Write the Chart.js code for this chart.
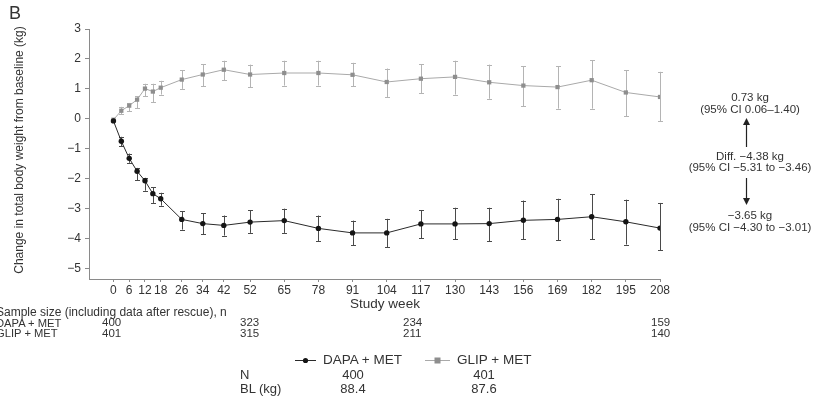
<!DOCTYPE html>
<html>
<head>
<meta charset="utf-8">
<script src="https://cdn.jsdelivr.net/npm/chart.js@4/dist/chart.umd.min.js"></script>
<style>
  html, body { margin: 0; padding: 0; background: #fff; }
  #wrap { position: relative; width: 827px; height: 396px; overflow: hidden;
          font-family: "Liberation Sans", Arial, Helvetica, sans-serif; color: #333; }
  #c { position: absolute; left: 0; top: 0; }
  .t { position: absolute; white-space: nowrap; line-height: 1; }
</style>
</head>
<body>
<div id="wrap">
  <canvas id="c" width="827" height="396"></canvas>
</div>
<script>
// Study weeks with a visit, and the weeks labelled on the axis
const weeks = [0, 3, 6, 9, 12, 15, 18, 26, 34, 42, 52, 65, 78, 91, 104, 117, 130, 143, 156, 169, 182, 195, 208];
const tickWeeks = [0, 6, 12, 18, 26, 34, 42, 52, 65, 78, 91, 104, 117, 130, 143, 156, 169, 182, 195, 208];
const yTicks = [-5, -4, -3, -2, -1, 0, 1, 2, 3];

// Change in total body weight (kg): mean and error bar ends, DAPA + MET
const dapaMean = [-0.07, -0.75, -1.32, -1.75, -2.07, -2.50, -2.67, -3.36, -3.50, -3.56, -3.45, -3.40, -3.66, -3.81, -3.81, -3.51, -3.51, -3.50, -3.39, -3.36, -3.27, -3.44, -3.65];
const dapaLow  = [null, -0.92, -1.47, -2.05, -2.40, -2.81, -2.90, -3.70, -3.86, -3.90, -3.81, -3.81, -4.09, -4.23, -4.29, -3.99, -4.03, -4.09, -4.03, -4.06, -4.03, -4.20, -4.39];
const dapaHigh = [null, -0.60, -1.16, -1.64, -1.97, -2.29, -2.47, -3.09, -3.16, -3.23, -3.05, -3.00, -3.23, -3.40, -3.34, -3.05, -2.97, -2.97, -2.73, -2.67, -2.51, -2.70, -2.81];

// GLIP + MET
const glipMean = [-0.03, 0.27, 0.44, 0.64, 1.01, 0.91, 1.04, 1.31, 1.48, 1.64, 1.48, 1.53, 1.53, 1.47, 1.23, 1.34, 1.40, 1.22, 1.11, 1.06, 1.29, 0.88, 0.73];
const glipLow  = [null, 0.16, 0.25, 0.36, 0.75, 0.56, 0.81, 1.00, 1.08, 1.29, 1.06, 1.11, 1.11, 1.08, 0.73, 0.86, 0.81, 0.67, 0.42, 0.34, 0.34, 0.08, -0.08];
const glipHigh = [null, 0.40, 0.53, 0.75, 1.17, 1.17, 1.27, 1.63, 1.83, 1.94, 1.81, 1.94, 1.94, 1.87, 1.68, 1.82, 1.94, 1.81, 1.75, 1.75, 1.95, 1.62, 1.57];

// Sample sizes under the plot
const sampleDapa = ['400', '323', '234', '159'];
const sampleGlip = ['401', '315', '211', '140'];
const legendN  = ['400', '401'];
const legendBL = ['88.4', '87.6'];

const FONT = '"Liberation Sans", Arial, Helvetica, sans-serif';
const wrap = document.getElementById('wrap');

function text(str, x, y, size, align, extra) {
  const d = document.createElement('div');
  d.className = 't';
  d.textContent = str;
  d.style.fontSize = size + 'px';
  d.style.top = (y - size * 0.49) + 'px';
  d.style.left = x + 'px';
  if (align === 'center') d.style.transform = 'translateX(-50%)';
  if (align === 'right') d.style.transform = 'translateX(-100%)';
  if (extra) Object.assign(d.style, extra);
  wrap.appendChild(d);
  return d;
}

// whiskers with short caps, drawn beneath the lines and markers
const errorBars = {
  id: 'errorBars',
  beforeDatasetsDraw(chart) {
    const { ctx, scales: { x, y } } = chart;
    const sets = [
      { low: glipLow, high: glipHigh, color: '#b4b4b4' },
      { low: dapaLow, high: dapaHigh, color: '#4a4a4a' }
    ];
    ctx.save();
    ctx.lineWidth = 1;
    sets.forEach(s => {
      ctx.strokeStyle = s.color;
      weeks.forEach((w, i) => {
        if (s.low[i] === null) return;
        const px = Math.round(x.getPixelForValue(w)) + 0.5;
        const y1 = y.getPixelForValue(s.high[i]);
        const y2 = y.getPixelForValue(s.low[i]);
        ctx.beginPath();
        ctx.moveTo(px, y1); ctx.lineTo(px, y2);
        ctx.moveTo(px - 2.5, Math.round(y1) + 0.5); ctx.lineTo(px + 2.5, Math.round(y1) + 0.5);
        ctx.moveTo(px - 2.5, Math.round(y2) + 0.5); ctx.lineTo(px + 2.5, Math.round(y2) + 0.5);
        ctx.stroke();
      });
    });
    ctx.restore();
  }
};

new Chart(document.getElementById('c'), {
  type: 'line',
  data: {
    datasets: [
      {
        label: 'DAPA + MET',
        data: weeks.map((w, i) => ({ x: w, y: dapaMean[i] })),
        borderColor: '#2a2a2a', backgroundColor: '#151515',
        borderWidth: 1, pointStyle: 'circle', pointRadius: 2.7, pointBorderWidth: 0,
        tension: 0
      },
      {
        label: 'GLIP + MET',
        data: weeks.map((w, i) => ({ x: w, y: glipMean[i] })),
        borderColor: '#a9a9a9', backgroundColor: '#8e8e8e',
        borderWidth: 1, pointStyle: 'rect', pointRadius: 3, pointBorderWidth: 0,
        tension: 0
      }
    ]
  },
  options: {
    responsive: false,
    animation: false,
    devicePixelRatio: 1,
    layout: { padding: { left: 49, right: 167, top: 29, bottom: 87 } },
    plugins: { legend: { display: false }, tooltip: { enabled: false } },
    scales: {
      x: {
        type: 'linear', min: -9.3, max: 208,
        afterBuildTicks: s => { s.ticks = tickWeeks.map(v => ({ value: v })); },
        afterFit: s => { s.height = 30; },
        ticks: { autoSkip: false, maxRotation: 0, padding: 1, color: '#333',
                 font: { family: FONT, size: 12 }, callback: v => String(v) },
        grid: { drawOnChartArea: false, drawTicks: true, tickLength: 3, color: '#8a8a8a' },
        border: { display: true, color: '#8a8a8a', width: 1 }
      },
      y: {
        min: -5.35, max: 3,
        afterBuildTicks: s => { s.ticks = yTicks.map(v => ({ value: v })); },
        afterFit: s => { s.width = 40; },
        ticks: { padding: 4, color: '#333', font: { family: FONT, size: 12 },
                 callback: v => (v < 0 ? '\u2212' + Math.abs(v) : String(v)) },
        grid: { drawOnChartArea: false, drawTicks: true, tickLength: 4, color: '#8a8a8a' },
        border: { display: true, color: '#8a8a8a', width: 1 }
      }
    }
  },
  plugins: [errorBars]
});

// panel letter and axis titles
text('B', 9, 13, 18);
text('Change in total body weight from baseline (kg)', 19, 150, 12, null,
     { transform: 'translate(-50%, 0) rotate(-90deg)', transformOrigin: '50% 50%' });
text('Study week', 385, 304, 13.5, 'center');

// estimates at week 208
text('0.73 kg', 750, 98, 11.5, 'center');
text('(95% CI 0.06\u20131.40)', 750, 109.5, 11.5, 'center');
text('Diff. \u22124.38 kg', 750, 157, 11.5, 'center');
text('(95% CI \u22125.31 to \u22123.46)', 750, 167.5, 11.5, 'center');
text('\u22123.65 kg', 750, 215.5, 11.5, 'center');
text('(95% CI \u22124.30 to \u22123.01)', 750, 227.5, 11.5, 'center');

const svgNS = 'http://www.w3.org/2000/svg';
const svg = document.createElementNS(svgNS, 'svg');
svg.setAttribute('width', '827'); svg.setAttribute('height', '396');
svg.style.position = 'absolute'; svg.style.left = '0'; svg.style.top = '0';
svg.innerHTML =
  '<line x1="746.5" y1="147" x2="746.5" y2="124" stroke="#222" stroke-width="1.2"/>' +
  '<polygon points="743,125 750,125 746.5,118" fill="#222"/>' +
  '<line x1="746.5" y1="178" x2="746.5" y2="199" stroke="#222" stroke-width="1.2"/>' +
  '<polygon points="743,198 750,198 746.5,205" fill="#222"/>' +
  // legend keys
  '<line x1="295" y1="360.5" x2="316" y2="360.5" stroke="#2a2a2a" stroke-width="1"/>' +
  '<circle cx="305.5" cy="360.5" r="2.6" fill="#151515"/>' +
  '<line x1="425" y1="360.5" x2="450" y2="360.5" stroke="#a9a9a9" stroke-width="1"/>' +
  '<rect x="434.5" y="357.5" width="6" height="6" fill="#8e8e8e"/>';
wrap.appendChild(svg);

// sample size table
text('Sample size (including data after rescue), n', -4, 312, 12);
text('DAPA + MET', -4, 323, 11.2);
text('GLIP + MET', -4, 333.5, 11.2);
const sampleX = [102, 240, 403, 651];
sampleDapa.forEach((v, i) => text(v, sampleX[i], 323, 11.5));
sampleGlip.forEach((v, i) => text(v, sampleX[i], 333.5, 11.5));

// legend with N and baseline weight
text('DAPA + MET', 323, 360, 13.5);
text('GLIP + MET', 457, 360, 13.5);
text('N', 240, 374.5, 13);
text('BL (kg)', 240, 388.5, 13);
const legendX = [353, 484];
legendN.forEach((v, i) => text(v, legendX[i], 374.5, 13, 'center'));
legendBL.forEach((v, i) => text(v, legendX[i], 388.5, 13, 'center'));
</script>
</body>
</html>
